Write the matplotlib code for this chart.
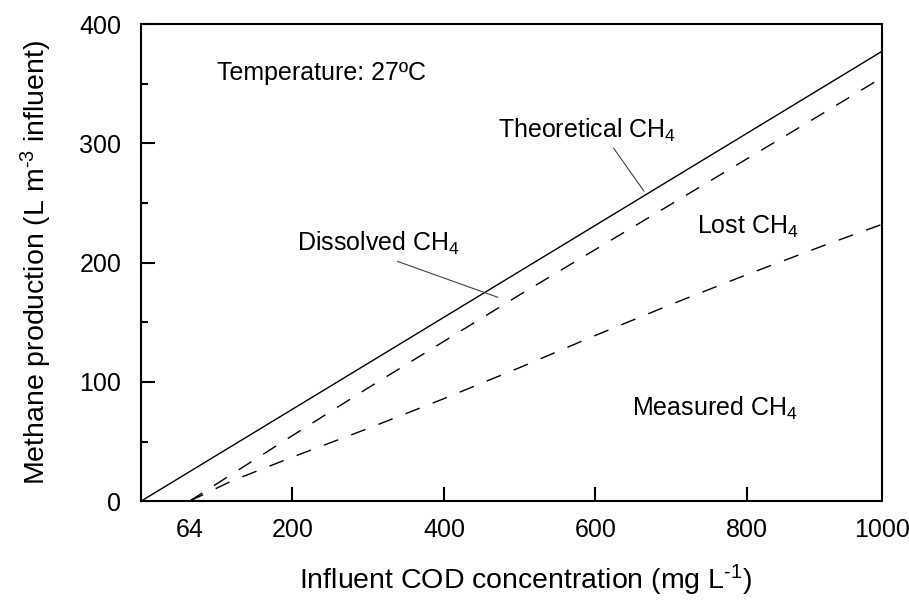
import matplotlib
matplotlib.use("Agg")
import matplotlib.pyplot as plt

plt.rcParams["font.family"] = ["Liberation Sans", "DejaVu Sans"]
plt.rcParams["mathtext.fontset"] = "custom"
plt.rcParams["mathtext.rm"] = "Liberation Sans"
plt.rcParams["mathtext.it"] = "Liberation Sans"
plt.rcParams["mathtext.default"] = "regular"

# Data (COD in mg/L, CH4 in L per m3 influent)
theory_cod = [0, 978]
theory_ch4 = [0, 377]

dissolved_cod = [64, 200, 300, 400, 500, 600, 700, 800, 900, 978]
dissolved_ch4 = [0, 55, 95, 134, 173, 211, 249, 287, 325, 355]

measured_cod = [64, 120, 200, 300, 400, 500, 600, 700, 800, 900, 978]
measured_ch4 = [0, 17, 37, 61, 86, 112, 139, 165, 190, 214, 232]

x_ticks = [64, 200, 400, 600, 800, 978]
x_tick_labels = ["64", "200", "400", "600", "800", "1000"]
y_ticks = [0, 100, 200, 300, 400]
y_minor = [50, 150, 250, 350]

fig = plt.figure(figsize=(9.09, 6.01), dpi=100)
ax = fig.add_axes([0.155, 0.166, 0.815, 0.794])

ax.plot(theory_cod, theory_ch4, color="black", lw=1.0)
ax.plot(dissolved_cod, dissolved_ch4, color="black", lw=1.0, dashes=(11, 10))
ax.plot(measured_cod, measured_ch4, color="black", lw=1.0, dashes=(11, 10))

ax.set_xlim(0, 978)
ax.set_ylim(0, 400)

ax.set_xticks(x_ticks)
ax.set_xticklabels(x_tick_labels)
ax.set_yticks(y_ticks)
ax.set_yticks(y_minor, minor=True)

ax.tick_params(axis="both", which="major", direction="in", length=10, width=1.5,
               labelsize=18, pad=12)
ax.tick_params(axis="y", which="minor", direction="in", length=5, width=1.5)
ax.tick_params(axis="y", which="major", pad=14)
# no visible tick marks at 64 and 1000
xt = ax.xaxis.get_major_ticks()
for i in (0, 5):
    xt[i].tick1line.set_visible(False)

for s in ax.spines.values():
    s.set_linewidth(1.5)

ax.set_xlabel(r"Influent COD concentration (mg L$^{\text{-}1}$)", fontsize=20.5, labelpad=15)
ax.xaxis.label.set_x(0.519)
ax.set_ylabel(r"Methane production (L m$^{\text{-}3}$ influent)", fontsize=20.5, labelpad=18)

ax.text(101, 353, "Temperature: 27ºC", fontsize=18, va="baseline")
ax.text(472, 305, "Theoretical CH$_4$", fontsize=18, va="baseline")
ax.text(206, 210, "Dissolved CH$_4$", fontsize=18, va="baseline")
ax.text(734, 224, "Lost CH$_4$", fontsize=18, va="baseline")
ax.text(648, 72, "Measured CH$_4$", fontsize=18, va="baseline")

# leader lines
ax.plot([624, 664], [296, 260], color="#444444", lw=0.8)
ax.plot([339, 471], [201, 171], color="#444444", lw=0.8)

fig.savefig("out.png", dpi=100)
